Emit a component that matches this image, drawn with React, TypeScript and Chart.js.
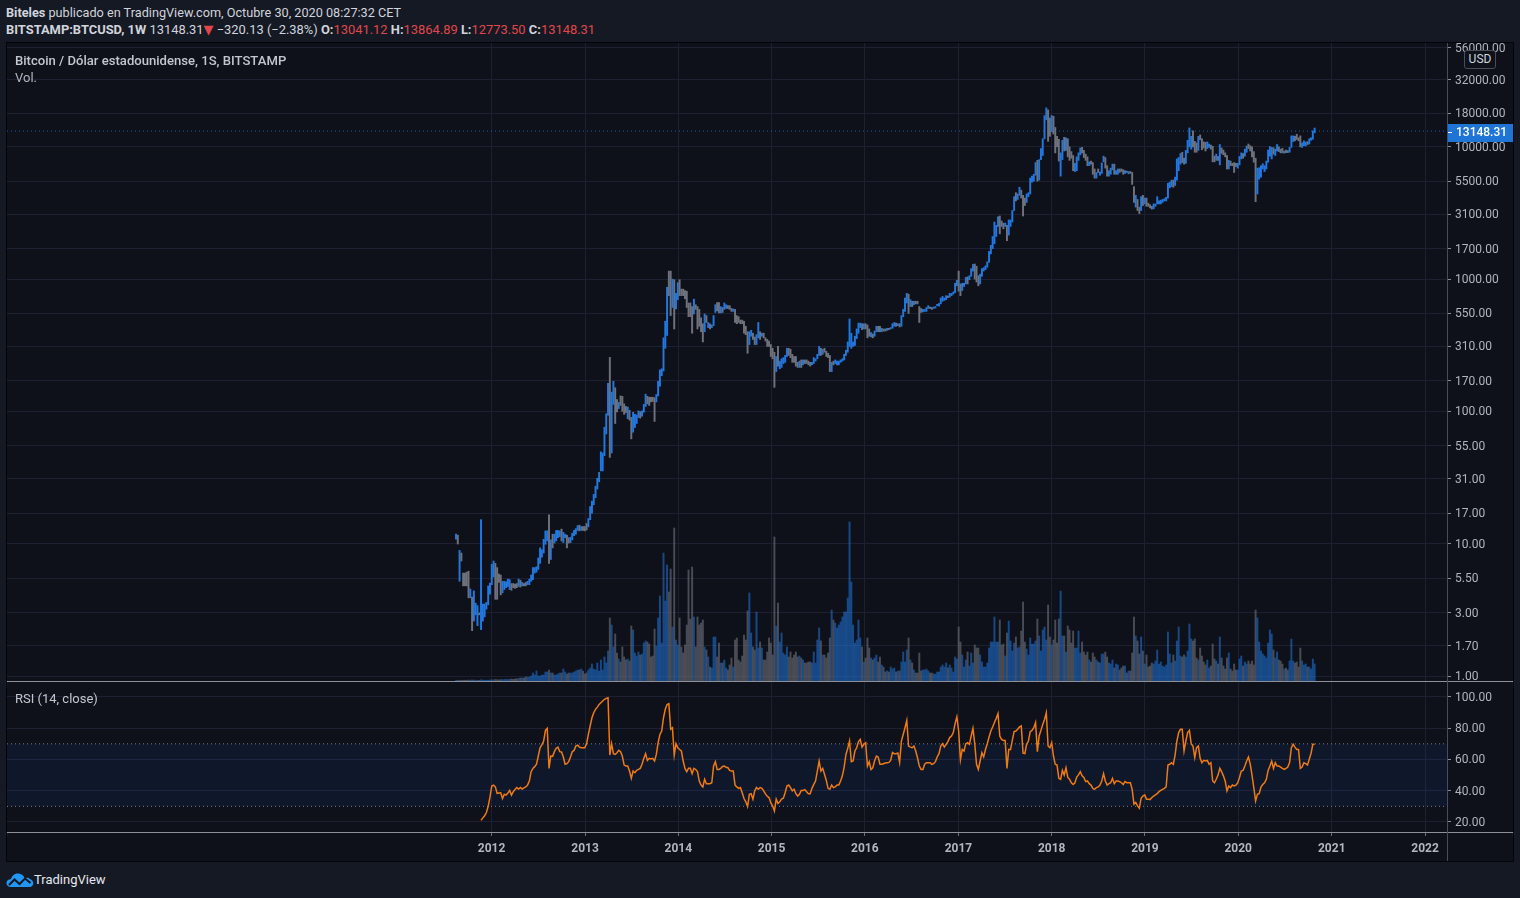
import React, { useEffect, useRef } from "react";
import { Chart, registerables } from "chart.js";

Chart.register(...registerables);

// ---------- data (weekly bars BITSTAMP:BTCUSD, first bar = week of 2011-08-15) ----------
const FIRST_WEEK_UTC = Date.UTC(2011, 7, 15);
const WEEK_MS = 7 * 86400000;

const YEAR_TICKS = [2012, 2013, 2014, 2015, 2016, 2017, 2018, 2019, 2020, 2021, 2022];
const PRICE_TICKS = [1, 1.7, 3, 5.5, 10, 17, 31, 55, 100, 170, 310, 550, 1000, 1700, 3100, 5500, 10000, 18000, 32000, 56000];
const RSI_TICKS = [20, 40, 60, 80, 100];
const LAST_CLOSE = 13148.31;
const RSI_UPPER = 70;
const RSI_LOWER = 30;

const weekLow = [
  // 2011
  10.8, 9.95, 5.2, 7.4, 4.8, 4.8, 4.8, 3.9, 3.9, 2.2, 2.6, 2.9, 2.4, 2.9, 2.24, 2.6, 2.8, 3.2, 3.45, 4.15,
  // 2012
  4.9, 5.6, 3.8, 3.8, 5.1, 4.1, 4.25, 4.5, 4.65, 4.75, 4.5, 4.45, 4.65, 4.6, 4.65, 4.75, 4.7, 4.8, 4.8, 4.8,
  4.9, 4.9, 5.2, 5.35, 6.0, 6.1, 6.4, 7.1, 7.9, 8.5, 9.9, 10.5, 7.1, 7.6, 9.3, 10.1, 10.5, 11.1, 11.3, 10.5,
  10.2, 11.1, 9.3, 10.1, 10.2, 10.7, 11.5, 11.8, 12.6, 12.5, 12.6, 12.6,
  // 2013
  12.5, 12.7, 13.4, 15.2, 17.0, 19.7, 22.3, 25.9, 29.4, 35.5, 35.5, 46.3, 67.5, 93.5, 44.9, 48.5, 113, 81, 99, 105,
  111, 100, 95, 98, 88, 86, 62, 69.6, 75.6, 81, 90, 89, 92, 98.6, 109, 114, 111, 118, 119, 84,
  118, 131, 155, 186, 202, 300, 375, 750, 530, 610, 420, 595,
  // 2014
  700, 750, 750, 750, 710, 610, 520, 520, 390, 545, 590, 420, 440, 400, 335, 400, 470, 430, 420, 430,
  445, 560, 575, 555, 555, 560, 590, 600, 600, 590, 570, 570, 470, 460, 470, 460, 460, 390, 380, 275,
  320, 370, 350, 320, 320, 360, 350, 370, 360, 340, 310, 310,
  // 2015
  260, 250, 152, 200, 220, 210, 215, 230, 235, 260, 265, 255, 235, 235, 220, 215, 215, 215, 225, 230,
  230, 225, 220, 225, 230, 240, 250, 265, 265, 270, 280, 260, 255, 200, 200, 225, 230, 225, 225, 235,
  240, 245, 265, 280, 310, 300, 310, 315, 355, 390, 430, 415,
  // 2016
  420, 420, 360, 370, 365, 360, 370, 400, 400, 400, 400, 405, 405, 410, 415, 420, 425, 440, 440, 445,
  435, 440, 520, 570, 660, 550, 620, 620, 640, 650, 650, 470, 560, 565, 570, 570, 600, 600, 590, 600,
  605, 630, 625, 650, 680, 690, 700, 725, 730, 750, 770, 790, 890,
  // 2017
  810, 750, 820, 880, 920, 920, 990, 1050, 1150, 1000, 950, 890, 920, 1050, 1150, 1180, 1230, 1340, 1550, 1700,
  1850, 2100, 2500, 2200, 2500, 2400, 2500, 1950, 2150, 2500, 2700, 3300, 3900, 4000, 4300, 4100, 3000, 3600, 3800, 4200,
  4400, 5400, 5500, 6100, 5500, 5600, 8000, 8600, 11500, 16000, 11000, 12000,
  // 2018
  13000, 12500, 9000, 10000, 7800, 6000, 8000, 9300, 9400, 8400, 7900, 8200, 6600, 6500, 6600, 7900, 8700, 9000, 8300, 7900,
  7200, 7200, 7400, 6200, 5800, 5800, 6400, 6100, 6300, 7700, 6900, 6000, 6000, 6200, 6700, 6200, 6200, 6200, 6400, 6500,
  6200, 6300, 6400, 6250, 6300, 5200, 3800, 3500, 3300, 3130, 3300, 3600,
  // 2019
  3700, 3550, 3550, 3450, 3380, 3400, 3550, 3700, 3700, 3700, 3800, 3900, 3900, 4100, 4900, 5000, 4950, 5100, 5600, 6600,
  7400, 7600, 7400, 7500, 9000, 10000, 9600, 10000, 9100, 9100, 9400, 11300, 9500, 9800, 9300, 9700, 9900, 9600, 7700, 7700,
  7900, 7900, 7300, 8900, 8700, 8400, 6800, 6800, 7200, 7200, 6400, 7100,
  // 2020
  6900, 7300, 8100, 8200, 8500, 9100, 9700, 9300, 8400, 7650, 3850, 4400, 5700, 5900, 6800, 6500, 6800, 7650, 8500, 8100,
  8800, 8600, 9300, 9200, 9000, 9000, 8950, 9050, 9050, 9100, 9900, 10950, 11100, 11350, 11100, 10000, 9900, 10200, 10150, 10400,
  10500, 11200, 11400, 12773.5,
];

const weekHigh = [
  // 2011
  11.8, 11.6, 8.9, 8.5, 6.0, 6.0, 6.1, 6.2, 4.55, 3.95, 4.4, 3.55, 3.4, 3.0, 15.2, 3.5, 3.5, 3.6, 4.8, 5.05,
  // 2012
  7.0, 7.4, 7.1, 6.6, 5.9, 5.8, 5.2, 5.2, 5.15, 5.4, 5.35, 5.0, 5.0, 4.95, 5.0, 5.4, 5.3, 5.1, 5.0, 5.1,
  5.2, 5.4, 5.8, 6.6, 6.6, 6.7, 7.8, 9.3, 9.0, 10.8, 12.5, 12.5, 16.5, 10.7, 11.8, 11.8, 12.6, 12.6, 12.5, 12.9,
  12.2, 11.8, 11.6, 11.1, 11.2, 12.0, 12.6, 13.0, 13.7, 13.8, 13.5, 13.5,
  // 2013
  13.5, 14.2, 15.5, 19.1, 21, 23.6, 27.2, 31.2, 34.6, 49.5, 48.5, 75.9, 96, 163, 256, 140, 169, 151, 123, 117,
  131, 130, 114, 109, 108, 102, 90, 98.5, 95, 94, 101, 99.5, 101, 113, 135, 130, 128, 128, 128, 127,
  134, 169, 206, 210, 360, 480, 868, 1150, 1150, 1000, 990, 780,
  // 2014
  940, 990, 840, 840, 820, 810, 660, 660, 620, 705, 640, 620, 590, 510, 460, 545, 530, 470, 460, 450,
  530, 640, 665, 665, 620, 610, 660, 640, 630, 630, 600, 595, 590, 530, 520, 490, 490, 480, 440, 400,
  400, 410, 390, 365, 380, 470, 400, 390, 390, 360, 350, 340,
  // 2015
  320, 300, 280, 260, 310, 240, 250, 255, 265, 300, 300, 295, 270, 260, 260, 235, 240, 245, 245, 245,
  245, 240, 235, 235, 255, 250, 270, 310, 300, 295, 300, 285, 275, 265, 235, 240, 245, 240, 240, 245,
  250, 270, 290, 335, 500, 390, 335, 370, 420, 465, 465, 460,
  // 2016
  460, 460, 450, 420, 395, 385, 405, 440, 440, 440, 425, 420, 420, 425, 425, 430, 460, 470, 465, 460,
  460, 530, 590, 720, 780, 770, 700, 680, 680, 680, 680, 620, 600, 590, 590, 610, 630, 615, 610, 615,
  620, 645, 655, 720, 740, 720, 750, 745, 780, 780, 800, 930, 980,
  // 2017
  1150, 920, 930, 930, 1030, 1040, 1060, 1200, 1290, 1300, 1250, 1060, 1090, 1200, 1220, 1260, 1350, 1620, 1800, 2100,
  2700, 2550, 2950, 3000, 2750, 2650, 2650, 2550, 2800, 2800, 3300, 4200, 4500, 4400, 4950, 4700, 4300, 4100, 4400, 4500,
  5800, 6000, 6200, 7600, 7900, 8000, 9700, 11500, 17200, 19700, 19000, 16500,
  // 2018
  17250, 17000, 14000, 12000, 11400, 9000, 11200, 11800, 11700, 11500, 10000, 9200, 8600, 7500, 8400, 9000, 9800, 9900, 9400, 8800,
  8400, 7700, 7800, 7600, 6800, 6400, 6800, 6450, 7550, 8500, 8300, 7200, 6600, 6900, 7400, 7400, 6600, 6800, 6800, 6800,
  6700, 6600, 6550, 6500, 6500, 6400, 5000, 4300, 4000, 3500, 4200, 4300,
  // 2019
  4100, 4100, 3750, 3650, 3550, 3700, 3700, 4200, 3900, 3950, 4000, 4050, 4150, 5300, 5400, 5600, 5600, 5900, 8100, 8300,
  8900, 9100, 8200, 9400, 11200, 13900, 12000, 13200, 11000, 10700, 12000, 12300, 11500, 10900, 10800, 10900, 10500, 10300, 10100, 8500,
  8800, 8450, 10400, 9800, 9450, 9000, 8600, 7900, 7800, 7500, 7600, 7500,
  // 2020
  7500, 8450, 9000, 8900, 9600, 10150, 10500, 10200, 10000, 9200, 8200, 6900, 6950, 7200, 7450, 7200, 7800, 9450, 10050, 9900,
  9850, 9600, 10400, 10000, 9600, 9750, 9300, 9450, 9350, 9900, 12100, 12100, 12000, 12450, 11700, 12100, 10700, 11100, 10850, 10950,
  11500, 11700, 13200, 13864.89,
];

// 1 = close above open (blue bar), 0 = close below open (grey bar)
const weekUp = [
  // 2011
  1, 0, 1, 0, 0, 0, 0, 0, 1, 0, 1, 1, 1, 0, 1, 1, 1, 1, 1, 1,
  // 2012
  1, 1, 0, 0, 0, 0, 1, 1, 1, 1, 1, 0, 0, 0, 0, 1, 0, 1, 0, 0,
  1, 1, 1, 1, 1, 1, 1, 1, 1, 1, 1, 1, 0, 1, 0, 1, 1, 1, 1, 0,
  1, 1, 0, 0, 1, 1, 1, 1, 1, 0, 1, 0,
  // 2013
  0, 0, 1, 1, 1, 1, 1, 1, 1, 1, 1, 1, 1, 1, 0, 1, 1, 0, 0, 1,
  0, 0, 0, 0, 1, 0, 0, 1, 1, 1, 1, 0, 1, 1, 1, 0, 0, 0, 0, 0,
  1, 1, 1, 1, 1, 1, 1, 0, 0, 1, 0, 1,
  // 2014
  1, 0, 0, 0, 0, 0, 0, 0, 0, 1, 0, 0, 0, 0, 0, 1, 0, 1, 0, 1,
  1, 1, 0, 0, 1, 0, 1, 1, 0, 0, 0, 1, 0, 0, 0, 0, 0, 0, 0, 0,
  1, 1, 0, 0, 1, 1, 0, 1, 0, 0, 0, 0,
  // 2015
  0, 0, 0, 1, 0, 1, 1, 1, 1, 1, 0, 0, 0, 0, 0, 0, 1, 0, 1, 0,
  0, 0, 0, 1, 1, 1, 1, 1, 0, 1, 0, 0, 0, 0, 1, 0, 1, 1, 1, 1,
  1, 1, 1, 1, 1, 1, 1, 1, 1, 1, 1, 0,
  // 2016
  1, 0, 0, 0, 1, 0, 1, 1, 0, 0, 1, 0, 0, 1, 0, 1, 1, 1, 0, 1,
  0, 1, 1, 1, 1, 0, 1, 0, 1, 0, 0, 0, 0, 1, 1, 1, 1, 0, 0, 1,
  1, 1, 1, 1, 1, 1, 1, 0, 1, 1, 1, 1, 1,
  // 2017
  0, 0, 1, 1, 1, 0, 1, 1, 1, 0, 0, 0, 1, 1, 1, 1, 1, 1, 1, 1,
  1, 1, 1, 0, 0, 0, 1, 0, 1, 1, 1, 1, 0, 1, 1, 0, 0, 0, 1, 1,
  1, 1, 1, 1, 0, 1, 1, 1, 1, 1, 0, 0,
  // 2018
  1, 0, 0, 0, 0, 1, 1, 0, 1, 0, 0, 0, 0, 1, 1, 1, 1, 0, 0, 0,
  0, 1, 0, 0, 0, 1, 0, 1, 1, 1, 0, 0, 1, 1, 1, 0, 1, 1, 0, 0,
  0, 1, 0, 1, 0, 0, 0, 1, 0, 0, 1, 0,
  // 2019
  1, 0, 0, 0, 0, 1, 1, 1, 1, 1, 1, 1, 1, 1, 1, 1, 0, 1, 1, 1,
  1, 0, 0, 1, 1, 1, 1, 0, 0, 0, 1, 0, 0, 0, 0, 1, 1, 0, 0, 0,
  1, 0, 1, 0, 0, 0, 0, 1, 0, 0, 0, 0,
  // 2020
  1, 1, 1, 0, 1, 1, 0, 0, 0, 0, 0, 1, 1, 1, 1, 1, 1, 1, 1, 1,
  0, 1, 1, 0, 0, 0, 1, 0, 0, 1, 1, 1, 0, 0, 0, 0, 1, 1, 1, 0,
  1, 1, 1, 1,
];

// weekly volume (relative units)
const weekVolume = [
  // 2011
  0.5, 0.6, 0.8, 0.6, 0.7, 0.8, 0.7, 1, 0.8, 1, 0.9, 0.8, 0.7, 0.6, 1.2, 0.9, 0.8, 0.7, 0.9, 1,
  // 2012
  1.2, 1, 1.5, 1.3, 1.1, 1.4, 1.2, 1.5, 1.6, 1.4, 1.8, 2, 1.7, 2, 2.2, 2.5, 3, 3, 3, 4,
  4, 4, 5, 8, 6, 10, 5, 5, 6, 6, 9, 9, 11, 8, 8, 6, 6, 7, 8, 8,
  12, 9, 7, 8, 8, 8, 9, 10, 11, 11, 12, 10,
  // 2013
  7, 8, 11, 13, 17, 12, 11, 18, 10, 21, 11, 24, 18, 30, 63, 56, 34, 47, 28, 22,
  19, 34, 24, 21, 22, 20, 55, 51, 28, 25, 29, 26, 27, 38, 40, 39, 37, 24, 25, 52,
  35, 63, 85, 38, 128, 80, 116, 89, 112, 54, 153, 41,
  // 2014
  36, 63, 34, 28, 36, 56, 111, 62, 114, 64, 34, 64, 56, 58, 61, 34, 31, 24, 14, 13,
  44, 44, 24, 38, 18, 18, 21, 13, 11, 16, 23, 14, 41, 43, 21, 19, 25, 46, 41, 70,
  88, 48, 34, 31, 69, 33, 39, 33, 21, 21, 29, 43,
  // 2015
  38, 26, 144, 55, 78, 39, 48, 28, 26, 34, 24, 29, 23, 26, 29, 24, 25, 23, 21, 18,
  18, 19, 19, 18, 29, 18, 41, 53, 40, 26, 26, 23, 28, 43, 71, 61, 58, 53, 56, 59,
  64, 69, 69, 83, 159, 99, 56, 38, 41, 61, 43, 34,
  // 2016
  19, 23, 43, 33, 23, 21, 23, 26, 19, 24, 16, 14, 9, 10, 9, 14, 12, 13, 9, 10,
  10, 19, 29, 19, 31, 43, 21, 18, 11, 8, 8, 28, 10, 11, 11, 12, 10, 8, 8, 7,
  7, 9, 9, 14, 16, 14, 18, 13, 16, 13, 9, 24, 22,
  // 2017
  54, 39, 26, 14, 21, 29, 15, 28, 18, 36, 33, 33, 26, 19, 14, 14, 18, 33, 39, 39,
  64, 39, 39, 61, 36, 37, 25, 48, 60, 40, 30, 38, 44, 33, 34, 50, 79, 39, 32, 26,
  43, 37, 37, 40, 62, 45, 30, 51, 54, 41, 76, 44,
  // 2018
  36, 41, 61, 38, 62, 90, 45, 45, 29, 55, 51, 38, 50, 33, 33, 50, 28, 39, 29, 26,
  29, 21, 19, 28, 24, 21, 19, 18, 27, 27, 29, 24, 18, 17, 21, 13, 17, 16, 11, 13,
  15, 15, 8, 10, 10, 28, 64, 45, 40, 27, 44, 30,
  // 2019
  17, 26, 14, 15, 18, 17, 20, 31, 17, 19, 15, 14, 16, 49, 27, 18, 26, 20, 40, 54,
  25, 24, 26, 24, 30, 57, 42, 40, 42, 23, 21, 33, 25, 19, 16, 21, 13, 15, 37, 22,
  20, 17, 44, 23, 15, 12, 23, 28, 12, 10, 17, 11,
  // 2020
  11, 22, 25, 15, 19, 17, 20, 17, 20, 16, 71, 63, 39, 30, 27, 25, 23, 38, 51, 47,
  31, 23, 29, 21, 20, 17, 12, 13, 11, 20, 42, 20, 18, 19, 14, 33, 20, 16, 17, 14,
  14, 12, 22, 17,
];

// RSI (14, close), weekly
const weekRsi = [
  // 2011
  null, null, null, null, null, null, null, null, null, null, null, null, null, null, 21, 22.6, 24, 26, 30, 36,
  // 2012
  43, 43.5, 42.5, 38.3, 38.5, 38.7, 35, 37.7, 37.2, 38.5, 40.2, 37.2, 39.4, 40.7, 42, 41.1, 42, 41.1, 41.8, 42.4,
  43.6, 46.2, 52.2, 54.3, 55.4, 56.9, 62.2, 67.5, 69.3, 71.8, 78.6, 79.9, 54.3, 62.2, 62, 65, 67.1, 67.9, 65, 64.8,
  61.6, 56.9, 57.3, 58.6, 61.6, 65, 65.8, 68.6, 69.2, 67.9, 67.5, 67.5,
  // 2013
  67.5, 70.1, 76, 81.4, 86.7, 89.9, 92.1, 93.5, 95.2, 96.3, 97.4, 98.5, 99.1, 99.5, 62.8, 70.1, 63.7, 63.2, 64.3, 65.8,
  65, 62, 56.4, 55.8, 55.8, 52.6, 47.9, 52.6, 51.5, 53, 53.6, 54.3, 56.9, 60.7, 63.7, 59.4, 60.7, 60.3, 60.7, 59,
  63.2, 70.7, 76, 78.2, 86.7, 92.1, 95.2, 95.7, 79.3, 80.3, 62.8, 70.1,
  // 2014
  67.5, 66.4, 65.4, 59, 54.3, 52.2, 54.3, 54.3, 50.9, 54.3, 53.6, 52.2, 46.2, 43.6, 42.4, 47.3, 44.5, 44.5, 44.5, 45.1,
  55.8, 58.6, 53.6, 53.6, 54.3, 55.5, 55.8, 55, 54.7, 53, 52.6, 52.6, 43.6, 42.4, 41.5, 42, 38.7, 35, 32.9, 29.9,
  37.7, 38.1, 34.6, 39.9, 42, 40.9, 42, 41.5, 39.9, 38, 36.4, 35.6,
  // 2015
  32.2, 30.3, 27, 34.6, 31.8, 32.9, 34.6, 35.2, 38.7, 43, 43.6, 42, 39.9, 40.9, 38.1, 36.6, 37.7, 40.2, 40.2, 40.7,
  39.4, 38.1, 38.1, 41.5, 44, 46.2, 52.6, 59, 52.6, 54.3, 50.5, 46.6, 41.5, 40.9, 43.6, 42, 42.4, 43.6, 43.6, 46.2,
  49.5, 55.1, 63.2, 67.1, 71.8, 58.6, 59, 65.4, 67.5, 71.4, 72.8, 67.9,
  // 2016
  69.7, 70.7, 55.8, 58.6, 53.6, 54.7, 59, 62.2, 61.6, 56.9, 56.9, 57.3, 57.7, 57.9, 58.1, 59.4, 64.5, 63.7, 63.7, 64.1,
  58.1, 71.8, 76, 80.3, 85, 68.6, 67.9, 67.5, 68.6, 65.4, 61.1, 55.8, 53.6, 53.6, 56.9, 57.9, 57.9, 57.9, 56.9, 57.3,
  58.6, 61.6, 63.7, 68.6, 70.1, 67.9, 69.7, 71.4, 74, 75, 77.2, 82.9, 87.2,
  // 2017
  78.2, 59.8, 66.4, 65.4, 70.1, 70.7, 69.7, 75, 79.9, 70, 56.9, 53.6, 59, 64.3, 61.6, 66.4, 70.1, 74.4, 78.2, 80.8,
  83.6, 86.3, 89.3, 75, 72.8, 72.2, 72.2, 54.3, 66.4, 66.4, 72.2, 77.8, 78.2, 79.3, 80.8, 81.4, 64, 63.7, 69.7, 71.8,
  77.8, 78.6, 80.3, 83.6, 65, 75, 78.6, 82.4, 85.6, 89.9, 68.6, 67.5,
  // 2018
  70.7, 62.2, 56.9, 56.4, 47.9, 47.3, 53, 50.1, 54.7, 48.5, 47.3, 45.1, 44, 45.1, 48.7, 50.1, 52.2, 49.5, 48.5, 45.8,
  46.2, 44.5, 43.6, 41.5, 40.9, 42, 42.4, 43.6, 46.2, 50.9, 46.2, 43.6, 44.5, 45.1, 47.9, 44.5, 46.2, 46.2, 45.8, 45.1,
  44, 45.8, 45.1, 45.1, 45.1, 40.9, 31.4, 32.5, 30.3, 28.8, 35.2, 36.6,
  // 2019
  37.3, 34.6, 34.6, 34.3, 35.6, 36.6, 37.3, 38.1, 39.4, 40.2, 40.9, 41.5, 42.4, 56.4, 56.9, 57.9, 56.9, 62.8, 71.8, 77.2,
  79.3, 79.3, 65.4, 71.8, 77.2, 78.6, 70, 68.6, 61.1, 67.5, 68.6, 60.7, 57.9, 59.4, 59, 59.4, 56.9, 57.9, 46.2, 45.1,
  47.3, 50, 54.3, 52.2, 49.5, 46.2, 39.9, 43, 42, 43.6, 43, 43.6,
  // 2020
  45, 48.5, 52.6, 53, 55.8, 59, 61.6, 57, 50, 42, 33.5, 37.7, 38.1, 42.4, 44, 45.1, 47.3, 53, 55.8, 59,
  54.3, 57.9, 55.8, 55.8, 55.1, 54.3, 53.6, 54.3, 55.1, 58, 67.5, 69.7, 67.9, 66.4, 66.4, 54.3, 55.1, 57.9, 57.3, 56.4,
  60.1, 64, 69.7, 69.7,
];

// ---------- styling ----------
const FONT = "Roboto, 'Noto Sans', 'DejaVu Sans', sans-serif";
const OUTER_BG = "#151924";
const PANE_BG = "#0e1119";
const GRID = "#1d2030";
const AXIS_TEXT = "#b2b5be";
const UP = "#2178e0";
const DOWN = "#6f727c";
const UP_VOL = "rgba(33,120,224,0.55)";
const DOWN_VOL = "rgba(111,114,124,0.6)";
const RED = "#e0474c";
const RSI_COLOR = "#f07b12";

// axis window (time range shown) and pane scale limits
const X_MIN = Date.UTC(2006, 9, 23);
const X_MAX = Date.UTC(2022, 2, 28);
const PRICE_MIN = 0.9167;
const PRICE_MAX = 60910;
const VOL_MAX = 638;
const RSI_MIN = 13.57;
const RSI_MAX = 109.57;
const AXIS_W = 66;

const weekX = weekLow.map((_, i) => FIRST_WEEK_UTC + i * WEEK_MS);
const yearTickValues = YEAR_TICKS.map((y) => Date.UTC(y, 0, 1));

const lastPricePlugin = {
  id: "lastPriceLabel",
  afterDraw(chart: any) {
    const { ctx, chartArea, width } = chart;
    const y = Math.round(chart.scales.y.getPixelForValue(LAST_CLOSE)) + 1;
    ctx.save();
    ctx.fillStyle = "#1f75d6";
    ctx.fillRect(chartArea.right + 1, y - 8, width - chartArea.right - 1, 18);
    ctx.fillStyle = "#ffffff";
    ctx.fillRect(chartArea.right + 1, y, 4, 1);
    ctx.font = "500 12px " + FONT;
    ctx.textBaseline = "middle";
    ctx.fillText(LAST_CLOSE.toFixed(2), chartArea.right + 9, y + 1);
    ctx.restore();
  },
};

function fixY(s: any) {
  s.width = AXIS_W;
  s.paddingTop = 0;
  s.paddingBottom = 0;
}

export default function App() {
  const priceRef = useRef<HTMLCanvasElement>(null);
  const rsiRef = useRef<HTMLCanvasElement>(null);

  useEffect(() => {
    document.body.style.margin = "0";
    document.body.style.background = OUTER_BG;
    Chart.defaults.font.family = FONT;

    const priceChart = new Chart(priceRef.current as HTMLCanvasElement, {
      type: "bar",
      data: {
        datasets: [
          {
            type: "bar",
            label: "BTCUSD",
            data: weekX.map((x, i) => ({ x, y: [weekLow[i], weekHigh[i]] })),
            yAxisID: "y",
            backgroundColor: weekUp.map((u) => (u ? UP : DOWN)),
            borderWidth: 0,
            barThickness: 1.3,
            grouped: false,
            order: 0,
          },
          {
            type: "bar",
            label: "Vol.",
            data: weekX.map((x, i) => ({ x, y: weekVolume[i] })),
            yAxisID: "vol",
            backgroundColor: weekUp.map((u) => (u ? UP_VOL : DOWN_VOL)),
            borderWidth: 0,
            barThickness: 1.3,
            grouped: false,
            order: 2,
          },
          {
            type: "line",
            label: "last",
            data: [
              { x: X_MIN, y: LAST_CLOSE },
              { x: X_MAX, y: LAST_CLOSE },
            ],
            yAxisID: "y",
            borderColor: "rgba(40,120,215,0.75)",
            borderDash: [1, 3],
            borderWidth: 1,
            pointRadius: 0,
            order: 1,
          },
        ],
      } as any,
      options: {
        animation: false,
        responsive: true,
        maintainAspectRatio: false,
        layout: { padding: 0, autoPadding: false } as any,
        plugins: { legend: { display: false }, tooltip: { enabled: false } },
        events: [],
        scales: {
          x: {
            type: "linear",
            min: X_MIN,
            max: X_MAX,
            offset: false,
            grid: { color: GRID, drawTicks: false, offset: false },
            border: { display: false },
            ticks: { display: false },
            afterBuildTicks: (s: any) => {
              s.ticks = yearTickValues.map((v) => ({ value: v }));
            },
            afterFit: (s: any) => {
              s.height = 0;
              s.paddingLeft = 0;
              s.paddingRight = 0;
            },
          },
          y: {
            type: "logarithmic",
            position: "right",
            min: PRICE_MIN,
            max: PRICE_MAX,
            grid: { color: GRID, tickColor: "#8a8d96", tickLength: 4 },
            border: { display: false },
            ticks: {
              color: AXIS_TEXT,
              font: { size: 12 },
              padding: 4,
              labelOffset: 1,
              autoSkip: false,
              callback: (v: any) => Number(v).toFixed(2),
            },
            afterBuildTicks: (s: any) => {
              s.ticks = PRICE_TICKS.map((v) => ({ value: v }));
            },
            afterFit: fixY,
          },
          vol: {
            type: "linear",
            axis: "y",
            position: "right",
            display: false,
            min: 0,
            max: VOL_MAX,
          },
        } as any,
      },
      plugins: [lastPricePlugin],
    } as any);

    const rsiChart = new Chart(rsiRef.current as HTMLCanvasElement, {
      type: "line",
      data: {
        datasets: [
          {
            label: "upper",
            data: [
              { x: X_MIN, y: RSI_UPPER },
              { x: X_MAX, y: RSI_UPPER },
            ],
            borderColor: "#7b7e88",
            borderDash: [1, 3],
            borderWidth: 1,
            pointRadius: 0,
            fill: false,
            order: 2,
          },
          {
            label: "lower",
            data: [
              { x: X_MIN, y: RSI_LOWER },
              { x: X_MAX, y: RSI_LOWER },
            ],
            borderColor: "#7b7e88",
            borderDash: [1, 3],
            borderWidth: 1,
            pointRadius: 0,
            fill: "-1",
            backgroundColor: "rgba(41,98,255,0.08)",
            order: 1,
          },
          {
            label: "RSI",
            data: weekX.map((x, i) => ({ x, y: weekRsi[i] })),
            borderColor: RSI_COLOR,
            borderWidth: 1.5,
            pointRadius: 0,
            fill: false,
            tension: 0,
            order: 0,
          },
        ],
      } as any,
      options: {
        animation: false,
        responsive: true,
        maintainAspectRatio: false,
        layout: { padding: 0, autoPadding: false } as any,
        plugins: { legend: { display: false }, tooltip: { enabled: false } },
        events: [],
        scales: {
          x: {
            type: "linear",
            min: X_MIN,
            max: X_MAX,
            grid: { color: GRID, tickColor: "#6c6f79", tickLength: 4 },
            border: { display: false },
            ticks: {
              color: AXIS_TEXT,
              font: { size: 12, weight: "bold" },
              padding: 6,
              maxRotation: 0,
              autoSkip: false,
              callback: (v: any) => String(new Date(Number(v)).getUTCFullYear()),
            },
            afterBuildTicks: (s: any) => {
              s.ticks = yearTickValues.map((v) => ({ value: v }));
            },
            afterFit: (s: any) => {
              s.height = 29;
              s.paddingLeft = 0;
              s.paddingRight = 0;
            },
          },
          y: {
            type: "linear",
            position: "right",
            min: RSI_MIN,
            max: RSI_MAX,
            grid: { color: GRID, tickColor: "#8a8d96", tickLength: 4 },
            border: { display: false },
            ticks: {
              color: AXIS_TEXT,
              font: { size: 12 },
              padding: 4,
              labelOffset: 1,
              autoSkip: false,
              callback: (v: any) => Number(v).toFixed(2),
            },
            afterBuildTicks: (s: any) => {
              s.ticks = RSI_TICKS.map((v) => ({ value: v }));
            },
            afterFit: fixY,
          },
        } as any,
      },
    } as any);

    return () => {
      priceChart.destroy();
      rsiChart.destroy();
    };
  }, []);

  const abs = (l: number, t: number, w?: number, h?: number): React.CSSProperties => ({
    position: "absolute",
    left: l,
    top: t,
    width: w,
    height: h,
  });

  return (
    <div
      style={{
        position: "relative",
        width: 1520,
        height: 898,
        background: OUTER_BG,
        overflow: "hidden",
        fontFamily: FONT,
        color: "#d1d4dc",
      }}
    >
      {/* header */}
      <div style={{ ...abs(6, 5), fontSize: 12.7, lineHeight: "16px", whiteSpace: "nowrap" }}>
        <span style={{ fontWeight: 700 }}>Biteles</span> publicado en TradingView.com, Octubre 30, 2020 08:27:32 CET
      </div>
      <div style={{ ...abs(6, 22), fontSize: 12.9, lineHeight: "16px", whiteSpace: "nowrap" }}>
        <span style={{ fontWeight: 700 }}>BITSTAMP:BTCUSD, 1W</span>
        {"  "}13148.31<span style={{ color: RED }}>▼</span> −320.13 (−2.38%){" "}
        <span style={{ fontWeight: 700 }}>O:</span>
        <span style={{ color: RED }}>13041.12</span> <span style={{ fontWeight: 700 }}>H:</span>
        <span style={{ color: RED }}>13864.89</span> <span style={{ fontWeight: 700 }}>L:</span>
        <span style={{ color: RED }}>12773.50</span> <span style={{ fontWeight: 700 }}>C:</span>
        <span style={{ color: RED }}>13148.31</span>
      </div>

      {/* chart frame */}
      <div
        style={{
          ...abs(6, 42, 1508, 820),
          background: PANE_BG,
          border: "1px solid #03040a",
          boxSizing: "border-box",
        }}
      />
      <div style={abs(7, 43, 1506, 638)}>
        <canvas ref={priceRef} />
      </div>
      <div style={abs(7, 682, 1506, 179)}>
        <canvas ref={rsiRef} />
      </div>

      {/* pane separators */}
      <div style={{ ...abs(7, 681, 1506, 1), background: "#8d9099" }} />
      <div style={{ ...abs(7, 832, 1506, 1), background: "#8d9099" }} />
      <div style={{ ...abs(1447, 43, 1, 818), background: "#4a4d58" }} />

      {/* pane legends */}
      <div style={{ ...abs(15, 53), fontSize: 13.1, lineHeight: "16px", fontWeight: 500, color: "#c3c6ce", whiteSpace: "nowrap" }}>
        Bitcoin / Dólar estadounidense, 1S, BITSTAMP
      </div>
      <div style={{ ...abs(15, 70), fontSize: 13, lineHeight: "16px", color: "#b2b5be" }}>Vol.</div>
      <div style={{ ...abs(15, 691), fontSize: 13, lineHeight: "16px", color: "#c3c6ce", whiteSpace: "nowrap" }}>
        RSI (14, close)
      </div>

      {/* currency badge */}
      <div
        style={{
          ...abs(1464, 50, 32, 19),
          border: "1px solid #4a4e5a",
          borderRadius: 3,
          boxSizing: "border-box",
          background: PANE_BG,
          fontSize: 12,
          lineHeight: "17px",
          textAlign: "center",
          color: "#d1d4dc",
        }}
      >
        USD
      </div>

      {/* footer logo */}
      <svg style={abs(6, 871, 28, 17)} viewBox="0 0 28 17">
        <path
          d="M5 16 C1.5 16 0 13.5 0.5 11.5 C1 9 3 8 5 8.2 C6 4 9.5 2 13 2.5 C16 3 18 5 18.8 7.5 C20 6.5 22.5 6.5 24 8 C27.5 9 28.5 13.5 25.5 15.5 C24.8 16 24 16 23 16 Z"
          fill="#2196f3"
        />
        <polyline points="3,14 8.5,8.5 13.5,13 19,7.5 24.5,12" fill="none" stroke="#131722" strokeWidth="2" />
      </svg>
      <div style={{ ...abs(34, 872), fontSize: 13, lineHeight: "16px", color: "#e6e8ee" }}>TradingView</div>
    </div>
  );
}
